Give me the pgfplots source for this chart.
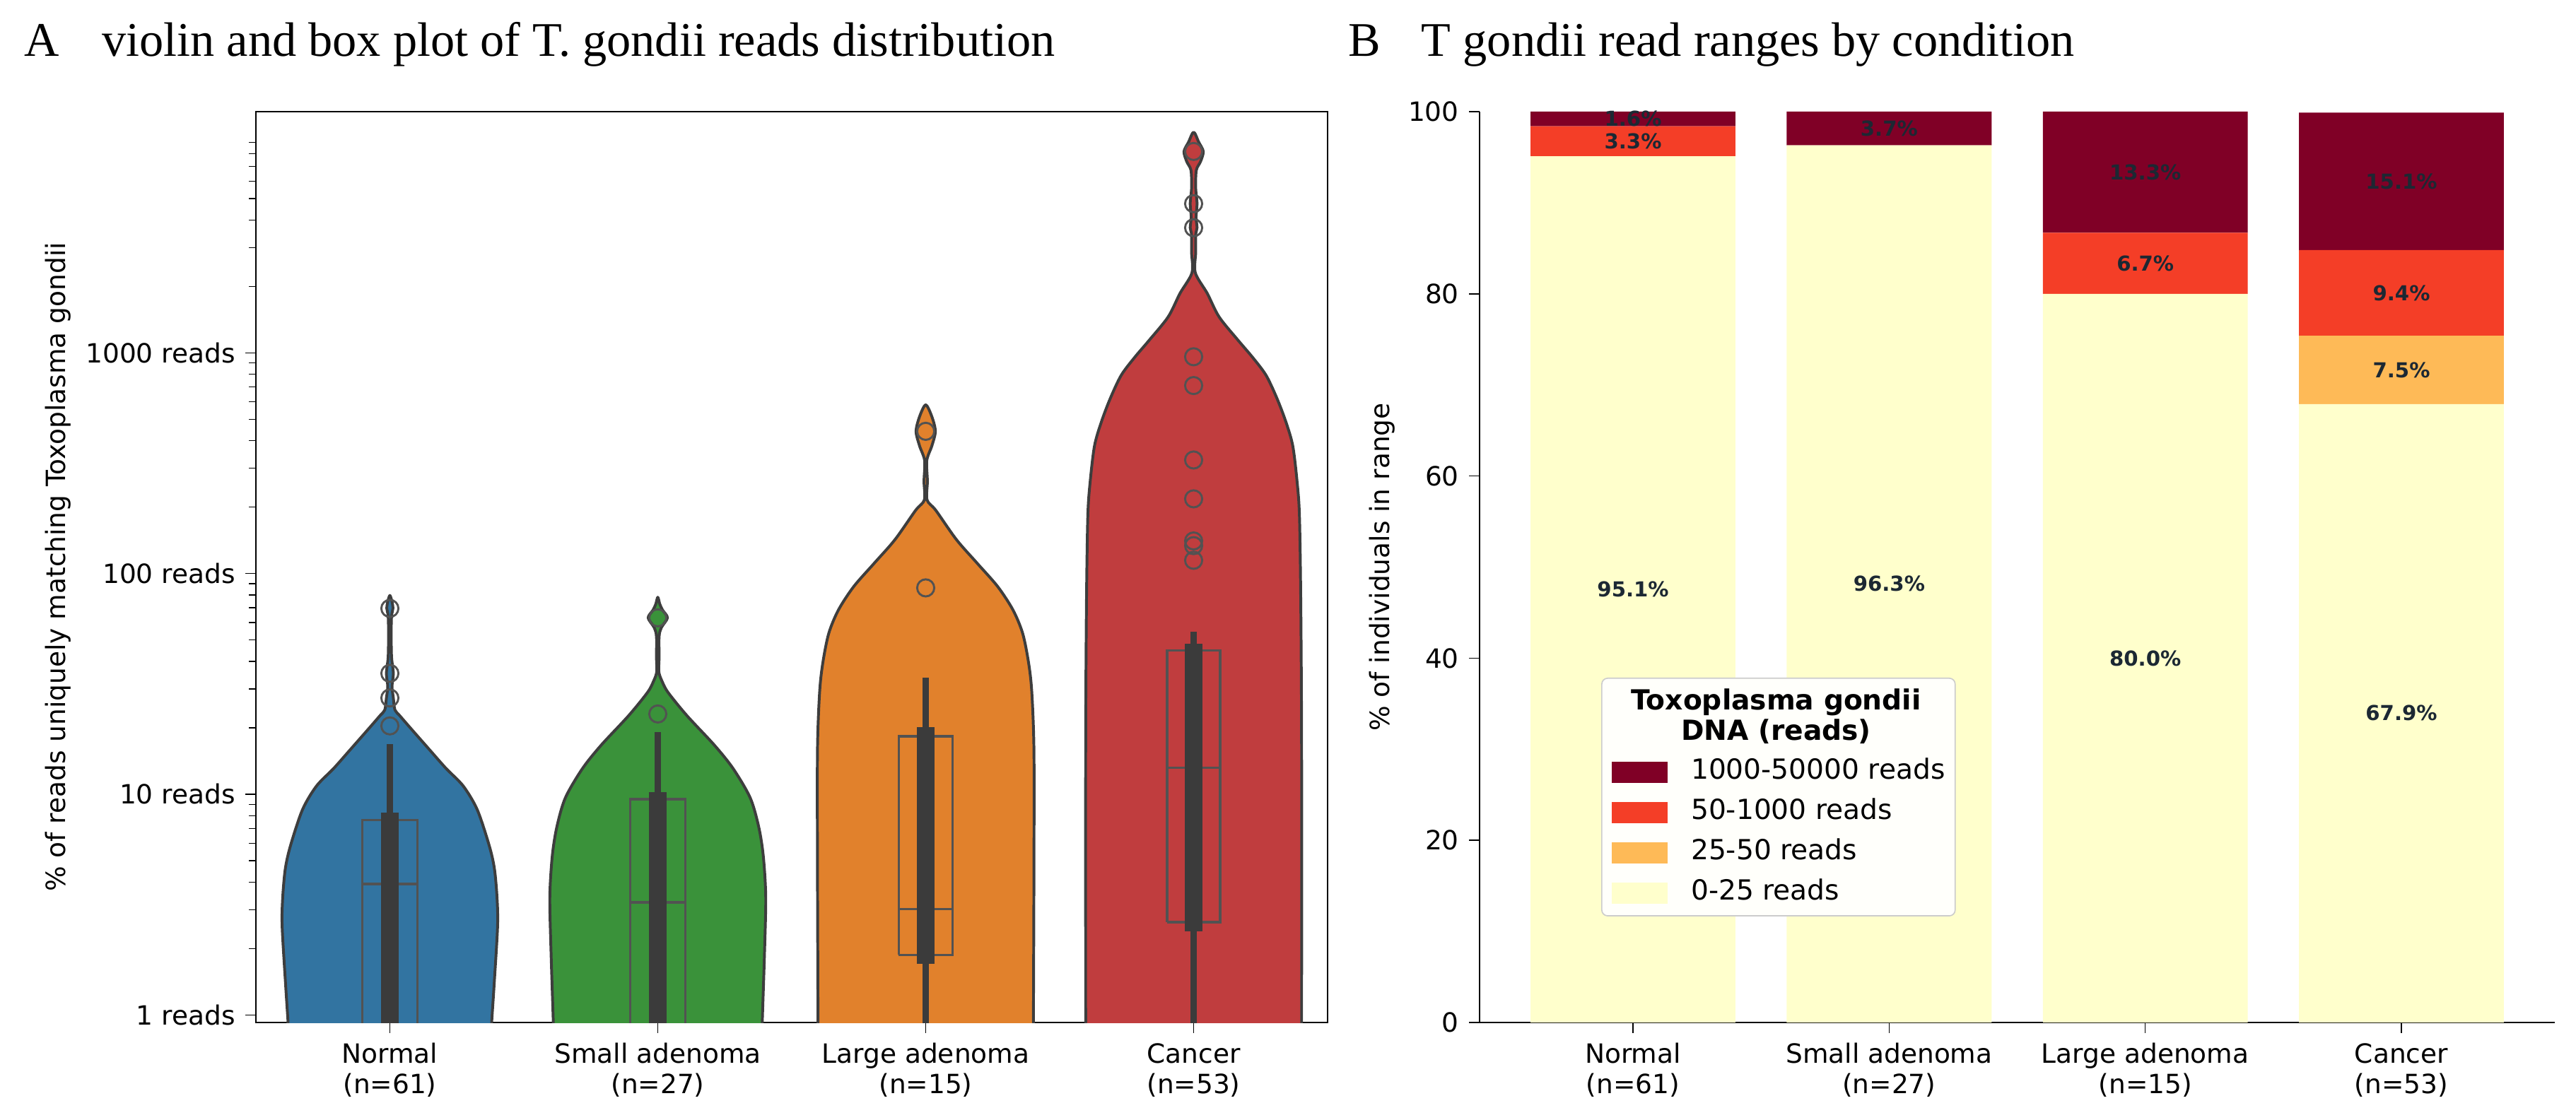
\documentclass[border=0pt]{standalone}
\usepackage{fontspec}
\setmainfont{DejaVu Sans}
\newfontfamily\titlefont{Liberation Serif}
\usepackage{pgfplots}
\usepackage{pgfplotstable}
\pgfplotsset{compat=1.18}

\definecolor{vblue}{HTML}{3274A1}
\definecolor{vgreen}{HTML}{3A923A}
\definecolor{vorange}{HTML}{E1812C}
\definecolor{vred}{HTML}{C03D3E}
\definecolor{vedge}{HTML}{3D3D3D}
\definecolor{innerc}{HTML}{3B3B3B}
\definecolor{boxc}{HTML}{525252}
\definecolor{r0}{HTML}{FFFFCC}
\definecolor{r25}{HTML}{FEBA57}
\definecolor{r50}{HTML}{F43E27}
\definecolor{r1000}{HTML}{800026}
\definecolor{lblc}{HTML}{1C2833}

% violin outlines: signed half-width dx (category units) and reads,
% up the right side, then back down the left side
\pgfplotstableread{
dx y
0.378 0.80
0.380 0.925
0.389 1.36
0.402 2.51
0.400 3.40
0.390 4.62
0.370 5.90
0.326 8.52
0.274 10.89
0.210 13.08
0.152 15.71
0.075 20.07
0.037 22.69
0.019 24.1
0.013 27.3
0.008 30.8
0.013 35.3
0.0064 41.8
0.005 53.5
0.0064 64.2
0.0115 69.5
0.0077 74.8
0 79.6
-0.0077 74.8
-0.0115 69.5
-0.0064 64.2
-0.005 53.5
-0.0064 41.8
-0.013 35.3
-0.008 30.8
-0.013 27.3
-0.019 24.1
-0.037 22.69
-0.075 20.07
-0.152 15.71
-0.210 13.08
-0.274 10.89
-0.326 8.52
-0.370 5.90
-0.390 4.62
-0.400 3.40
-0.402 2.51
-0.389 1.36
-0.380 0.925
-0.378 0.80
0.378 0.80
}\vNormal

\pgfplotstableread{
dx y
0.390 0.80
0.390 0.925
0.398 1.85
0.403 3.40
0.394 5.22
0.377 7.09
0.345 9.63
0.281 13.08
0.211 16.70
0.109 22.69
0.038 28.97
0.015 32.7
0.004 35.9
0.005 41.8
0.005 51.8
0.013 56.8
0.036 63.0
0.018 68.3
0.0077 72.6
0 78.1
-0.0077 72.6
-0.018 68.3
-0.036 63.0
-0.013 56.8
-0.005 51.8
-0.005 41.8
-0.004 35.9
-0.015 32.7
-0.038 28.97
-0.109 22.69
-0.211 16.70
-0.281 13.08
-0.345 9.63
-0.377 7.09
-0.394 5.22
-0.403 3.40
-0.398 1.85
-0.390 0.925
-0.390 0.80
0.390 0.80
}\vSmall

\pgfplotstableread{
dx y
0.402 0.80
0.402 0.925
0.404 4.62
0.404 15.72
0.396 28.97
0.384 39.4
0.362 53.5
0.326 68.3
0.269 87.2
0.192 111.4
0.115 142.3
0.038 193.2
0.005 215.7
0.0064 262
0.004 325
0.023 379
0.036 441
0.023 514
0 581
-0.023 514
-0.036 441
-0.023 379
-0.004 325
-0.0064 262
-0.005 215.7
-0.038 193.2
-0.115 142.3
-0.192 111.4
-0.269 87.2
-0.326 68.3
-0.362 53.5
-0.384 39.4
-0.396 28.97
-0.404 15.72
-0.404 4.62
-0.402 0.925
-0.402 0.80
0.402 0.80
}\vLarge

\pgfplotstableread{
dx y
0.403 0.80
0.403 0.925
0.403 15.72
0.400 72.6
0.395 182
0.386 262
0.370 379
0.345 484
0.312 618
0.271 789
0.222 948
0.166 1140
0.095 1456
0.051 1859
0.0064 2303
0.0077 2854
0.0077 3428
0.0128 3690
0.009 4119
0.0128 4742
0.0077 5594
0.010 6722
0.026 7367
0.036 8177
0.019 9016
0 10005
-0.019 9016
-0.036 8177
-0.026 7367
-0.010 6722
-0.0077 5594
-0.0128 4742
-0.009 4119
-0.0128 3690
-0.0077 3428
-0.0077 2854
-0.0064 2303
-0.051 1859
-0.095 1456
-0.166 1140
-0.222 948
-0.271 789
-0.312 618
-0.345 484
-0.370 379
-0.386 262
-0.395 182
-0.400 72.6
-0.403 15.72
-0.403 0.925
-0.403 0.80
0.403 0.80
}\vCancer

% share of individuals per read range (%)
\pgfplotstableread{
x r0 r25 r50 r1000
0 95.1 0.0 3.3 1.6
1 96.3 0.0 0.0 3.7
2 80.0 0.0 6.7 13.3
3 67.9 7.5 9.4 15.1
}\ranges

% segment labels: stack base and segment size
\pgfplotstableread{
x base val
0 0 95.1
0 95.1 3.3
0 98.4 1.6
1 0 96.3
1 96.3 3.7
2 0 80.0
2 80.0 6.7
2 86.7 13.3
3 0 67.9
3 67.9 7.5
3 75.4 9.4
3 84.8 15.1
}\segments

\tikzset{basefont/.style={font=\fontsize{9}{10.3}\selectfont}}
\pgfplotsset{
  vline/.style={draw=vedge, line width=0.95pt, line join=round, smooth, tension=0.5},
  innerw/.style={draw=innerc, line width=2.1pt},
  innerb/.style={draw=innerc, line width=5.8pt},
  boxl/.style={draw=boxc, line width=0.8pt, line join=miter},
  fliers/.style={only marks, mark=o, mark size=2.9pt, mark options={draw=boxc, line width=0.7pt}},
}

\begin{document}
\begin{tikzpicture}
\path[use as bounding box] (0,0) rectangle (874.56pt,380.16pt);

% panel titles
\node[anchor=base west, inner sep=0pt, font=\titlefont\fontsize{16.4}{19}\selectfont] at (8.16pt,360.96pt) {A};
\node[anchor=base west, inner sep=0pt, font=\titlefont\fontsize{16.4}{19}\selectfont] at (34.44pt,360.96pt) {violin and box plot of T. gondii reads distribution};
\node[anchor=base west, inner sep=0pt, font=\titlefont\fontsize{16.4}{19}\selectfont] at (457.68pt,360.96pt) {B};
\node[anchor=base west, inner sep=0pt, font=\titlefont\fontsize{16.4}{19}\selectfont] at (482.4pt,360.96pt) {T gondii read ranges by condition};

% ---------------- left panel: violins ----------------
\begin{axis}[
  at={(86.88pt,32.88pt)}, anchor=south west, scale only axis,
  width=363.84pt, height=309.36pt,
  xmin=-0.5, xmax=3.5,
  ymode=log, ymin=0.924, ymax=12390,
  axis line style={line width=0.5pt},
  tick align=outside, tick pos=left,
  major tick length=3.5pt, minor tick length=2.3pt,
  every tick/.style={black, line width=0.35pt},
  xtick={0,1,2,3},
  xticklabels={{Normal\\(n=61)},{Small adenoma\\(n=27)},{Large adenoma\\(n=15)},{Cancer\\(n=53)}},
  xticklabel style={basefont, align=center},
  ytick={1,10,100,1000},
  yticklabels={1 reads,10 reads,100 reads,1000 reads},
  yticklabel style={basefont},
  minor ytick={2,3,4,5,6,7,8,9,20,30,40,50,60,70,80,90,200,300,400,500,600,700,800,900,2000,3000,4000,5000,6000,7000,8000,9000},
  ylabel={\% of reads uniquely matching Toxoplasma gondii},
  every axis y label/.style={at={(axis description cs:-0.1847,0.5)}, rotate=90, anchor=center, basefont},
]
% violins
\addplot[vline, fill=vblue] table[x expr=0+\thisrow{dx}, y=y] {\vNormal};
\addplot[vline, fill=vgreen] table[x expr=1+\thisrow{dx}, y=y] {\vSmall};
\addplot[vline, fill=vorange] table[x expr=2+\thisrow{dx}, y=y] {\vLarge};
\addplot[vline, fill=vred] table[x expr=3+\thisrow{dx}, y=y] {\vCancer};

% box plots (quartiles and median)
\addplot[boxl] coordinates {(-0.103,0.8) (-0.103,7.63) (0.103,7.63) (0.103,0.8)};
\addplot[boxl] coordinates {(-0.103,3.92) (0.103,3.92)};
\addplot[boxl] coordinates {(0.897,0.8) (0.897,9.5) (1.103,9.5) (1.103,0.8)};
\addplot[boxl] coordinates {(0.897,3.24) (1.103,3.24)};
\addplot[boxl] coordinates {(1.899,1.87) (1.899,18.3) (2.101,18.3) (2.101,1.87) (1.899,1.87)};
\addplot[boxl] coordinates {(1.899,3.01) (2.101,3.01)};
\addplot[boxl] coordinates {(2.901,2.63) (2.901,44.8) (3.099,44.8) (3.099,2.63) (2.901,2.63)};
\addplot[boxl] coordinates {(2.901,13.2) (3.099,13.2)};

% inner boxes of the violins
\addplot[innerw] coordinates {(0,0.8) (0,16.9)};
\addplot[innerb] coordinates {(0,0.8) (0,8.26)};
\addplot[innerw] coordinates {(1,0.8) (1,19.2)};
\addplot[innerb] coordinates {(1,0.8) (1,10.2)};
\addplot[innerw] coordinates {(2,0.8) (2,33.8)};
\addplot[innerb] coordinates {(2,1.71) (2,20.1)};
\addplot[innerw] coordinates {(3,0.8) (3,54.4)};
\addplot[innerb] coordinates {(3,2.39) (3,47.9)};

% outliers
\addplot[fliers] coordinates {(0,69.5) (0,35.3) (0,27.3) (0,20.4)};
\addplot[fliers] coordinates {(1,63.0) (1,23.1)};
\addplot[fliers] coordinates {(2,441) (2,86.1)};
\addplot[fliers] coordinates {(3,8177) (3,4742) (3,3690) (3,960) (3,711) (3,327) (3,218) (3,140.5) (3,133.8) (3,114.8)};
\end{axis}

% ---------------- right panel: stacked shares ----------------
\begin{axis}[
  at={(502.32pt,32.88pt)}, anchor=south west, scale only axis,
  width=365.04pt, height=309.36pt,
  xmin=-0.599, xmax=3.599, ymin=0, ymax=100,
  axis x line*=bottom, axis y line*=left,
  axis line style={line width=0.5pt, -},
  ybar stacked, bar width=0.8,
  tick align=outside,
  major tick length=3.5pt,
  every tick/.style={black, line width=0.35pt},
  xtick={0,1,2,3},
  xticklabels={{Normal\\(n=61)},{Small adenoma\\(n=27)},{Large adenoma\\(n=15)},{Cancer\\(n=53)}},
  xticklabel style={basefont, align=center},
  ytick={0,20,40,60,80,100},
  yticklabel style={basefont},
  /pgf/number format/assume math mode=true,
  ylabel={\% of individuals in range},
  every axis y label/.style={at={(axis description cs:-0.0907,0.5)}, rotate=90, anchor=center, basefont},
  reverse legend,
  legend cell align=left,
  legend image code/.code={\draw[#1, draw=none, sharp corners] (0pt,-3.6pt) rectangle (19pt,3.6pt);},
  legend style={at={(0.1131,0.3786)}, anchor=north west,
    draw=black!20, fill=white!93!r0, rounded corners=2pt,
    inner xsep=3.4pt, inner ysep=3.4pt, row sep=5.2pt, column sep=7.9pt,
    font=\fontsize{9.4}{10.8}\selectfont,
    nodes={inner sep=0pt, text height=6.6pt, text depth=1.9pt}},
]
\addplot[fill=r0, draw=none] table[x=x, y=r0] {\ranges};
\addlegendentry{0-25 reads}
\addplot[fill=r25, draw=none] table[x=x, y=r25] {\ranges};
\addlegendentry{25-50 reads}
\addplot[fill=r50, draw=none] table[x=x, y=r50] {\ranges};
\addlegendentry{50-1000 reads}
\addplot[fill=r1000, draw=none] table[x=x, y=r1000] {\ranges};
\addlegendentry{1000-50000 reads}
\addlegendimage{empty legend}
\addlegendentry[text height=6.6pt, text depth=12.5pt]{}
\end{axis}

% segment labels
\begin{axis}[
  at={(502.32pt,32.88pt)}, anchor=south west, scale only axis,
  width=365.04pt, height=309.36pt,
  xmin=-0.599, xmax=3.599, ymin=0, ymax=100,
  hide axis, clip=false,
]
\addplot[only marks, mark=text, text mark={},
  point meta=explicit,
  nodes near coords={\pgfmathprintnumber[fixed, fixed zerofill, precision=1, assume math mode=true]{\pgfplotspointmeta}\%},
  every node near coord/.append style={anchor=center, inner sep=0pt, text=lblc,
    font=\bfseries\fontsize{7}{8}\selectfont}]
  table[x=x, y expr=\thisrow{base}+0.5*\thisrow{val}, meta=val] {\segments};
\end{axis}

% legend heading
\node[align=center, font=\bfseries\fontsize{9.4}{10.3}\selectfont] at (603pt,136.92pt) {Toxoplasma gondii\\DNA (reads)};
\end{tikzpicture}
\end{document}
